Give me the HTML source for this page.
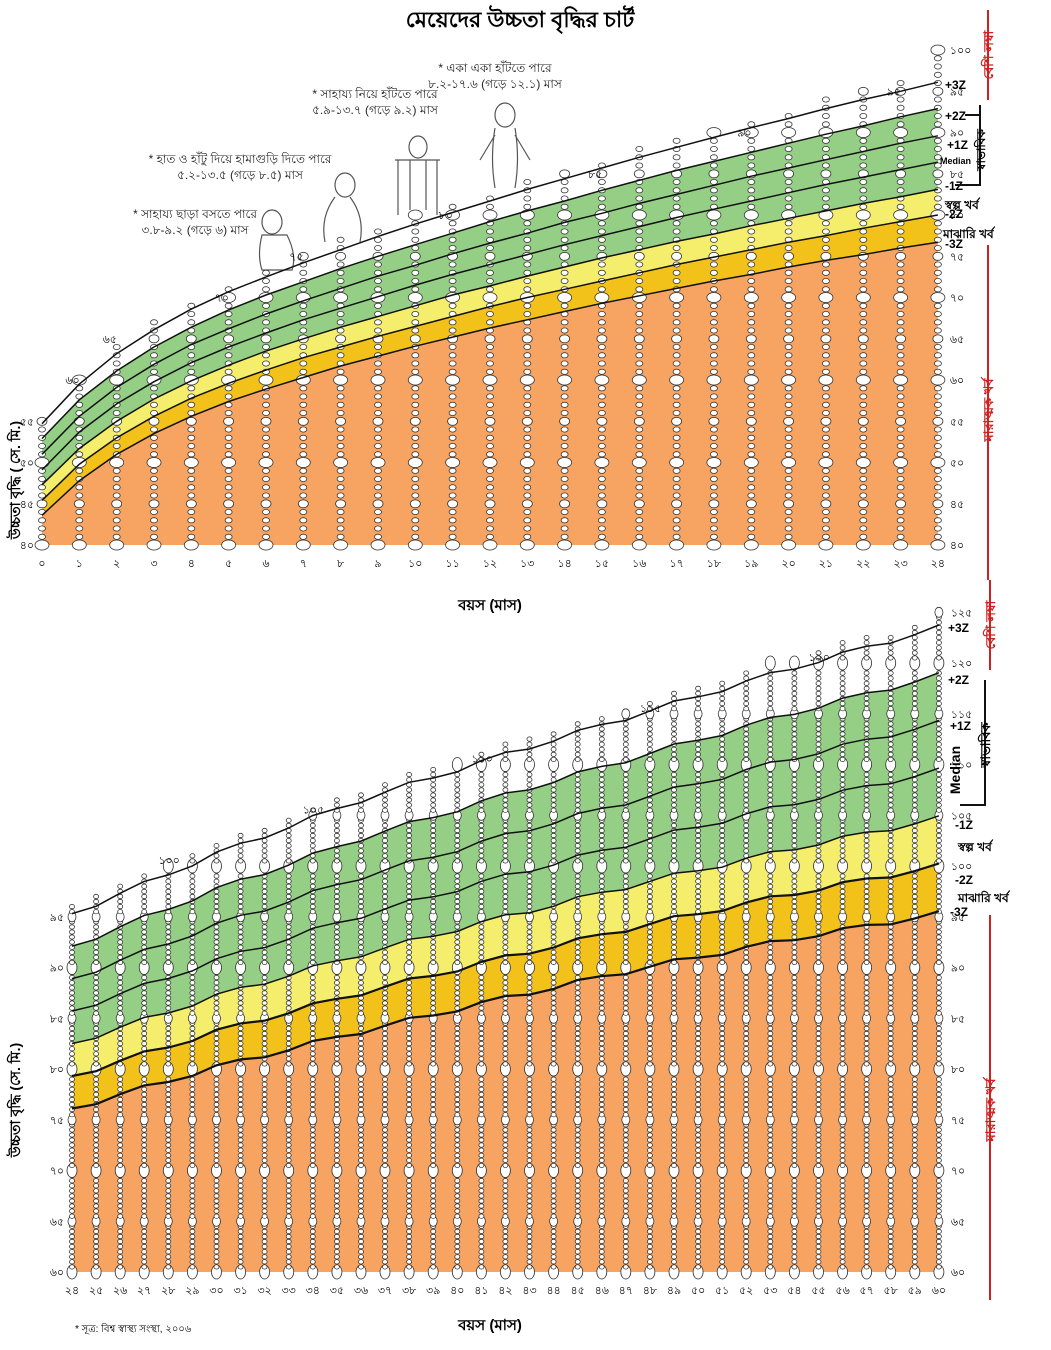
<!DOCTYPE html>
<html><head><meta charset="utf-8"><style>
html,body{margin:0;padding:0;background:#fff;}
svg{display:block;font-family:"Liberation Sans","Noto Sans CJK SC",sans-serif;}
</style></head><body>
<svg id="s" width="1051" height="1350" viewBox="0 0 1051 1350" xmlns="http://www.w3.org/2000/svg">
<text x="520" y="27" text-anchor="middle" font-size="22" font-weight="bold">মেয়েদের উচ্চতা বৃদ্ধির চার্ট</text>
<g font-size="12" text-anchor="middle" fill="#222">
<text x="495" y="72">* একা একা হাঁটতে পারে</text>
<text x="495" y="88">৮.২-১৭.৬ (গড়ে ১২.১) মাস</text>
<text x="375" y="98">* সাহায্য নিয়ে হাঁটতে পারে</text>
<text x="375" y="114">৫.৯-১৩.৭ (গড়ে ৯.২) মাস</text>
<text x="240" y="163">* হাত ও হাঁটু দিয়ে হামাগুড়ি দিতে পারে</text>
<text x="240" y="179">৫.২-১৩.৫ (গড়ে ৮.৫) মাস</text>
<text x="195" y="218">* সাহায্য ছাড়া বসতে পারে</text>
<text x="195" y="234">৩.৮-৯.২ (গড়ে ৬) মাস</text>
</g>
<g fill="none" stroke="#555" stroke-width="1.2">
<ellipse cx="272" cy="222" rx="10" ry="12"/><path d="M262,235 q-5,20 0,35 h30 q5,-15 -5,-35 z"/>
<ellipse cx="345" cy="185" rx="10" ry="12"/><path d="M335,197 q-15,20 -10,45 M350,197 q15,20 10,45"/>
<ellipse cx="418" cy="147" rx="9" ry="11"/><path d="M395,160 h45 M398,160 v55 M437,160 v55 M410,160 v50 M426,160 v50"/>
<ellipse cx="505" cy="115" rx="10" ry="12"/><path d="M495,128 q-5,30 0,60 M515,128 q5,30 0,60 M480,160 l15,-25 M530,160 l-15,-25"/>
</g>
<text x="490" y="610" text-anchor="middle" font-size="15" font-weight="bold">বয়স (মাস)</text>
<text x="490" y="1330" text-anchor="middle" font-size="15" font-weight="bold">বয়স (মাস)</text>
<text x="75" y="1332" font-size="10">* সূত্র: বিশ্ব স্বাস্থ্য সংস্থা, ২০০৬</text>
<text transform="translate(20,480) rotate(-90)" text-anchor="middle" font-size="14" font-weight="bold">উচ্চতা বৃদ্ধি ( সে. মি.)</text>
<text transform="translate(20,1100) rotate(-90)" text-anchor="middle" font-size="14" font-weight="bold">উচ্চতা বৃদ্ধি (সে. মি.)</text>
<g id="g"></g>
</svg>
<script>
var B="০১২৩৪৫৬৭৮৯";function bn(n){return String(n).split('').map(c=>/\d/.test(c)?B[+c]:c).join('');}
var g=document.getElementById('g'),h='';
var T={m3:[43.6,47.8,51.0,53.5,55.6,57.4,58.9,60.3,61.7,62.9,64.1,65.2,66.3,67.3,68.3,69.3,70.2,71.1,72.0,72.8,73.7,74.5,75.2,76.0,76.7],
m2:[45.4,49.8,53.0,55.6,57.8,59.6,61.2,62.7,64.0,65.3,66.5,67.7,68.9,70.0,71.0,72.0,73.0,74.0,74.9,75.8,76.7,77.5,78.4,79.2,80.0],
m1:[47.3,51.7,55.0,57.7,59.9,61.8,63.5,65.0,66.4,67.7,69.0,70.3,71.4,72.6,73.7,74.8,75.8,76.8,77.7,78.7,79.6,80.5,81.4,82.2,83.1],
md:[49.1,53.7,57.1,59.8,62.1,64.0,65.7,67.3,68.7,70.1,71.5,72.8,74.0,75.2,76.4,77.5,78.6,79.7,80.7,81.7,82.7,83.7,84.6,85.5,86.4],
p1:[51.0,55.6,59.1,61.9,64.3,66.2,68.0,69.6,71.1,72.6,73.9,75.3,76.6,77.8,79.1,80.2,81.4,82.5,83.6,84.7,85.7,86.7,87.7,88.7,89.6],
p2:[52.9,57.6,61.1,64.0,66.4,68.5,70.3,71.9,73.5,75.0,76.4,77.8,79.2,80.5,81.7,83.0,84.2,85.4,86.5,87.6,88.7,89.8,90.8,91.9,92.9],
p3:[54.7,59.5,63.2,66.1,68.6,70.7,72.5,74.2,75.8,77.4,78.9,80.3,81.7,83.1,84.4,85.7,87.0,88.2,89.4,90.6,91.7,92.9,94.0,95.0,96.1]};
var C={o:'#f7a462',g:'#f3c21a',y:'#f5ee6c',gr:'#95cf86'};
function chart(o){
 var X=m=>o.x0+(m-o.m0)*o.dx, Y=v=>o.yb-(v-o.vb)*o.dy, n=o.n;
 function pts(a){return a.map((v,i)=>X(o.m0+i).toFixed(1)+','+Y(v).toFixed(1));}
 function band(top,bot,col){var p=pts(top),q=pts(bot).reverse();h+='<polygon points="'+p.concat(q).join(' ')+'" fill="'+col+'"/>';}
 var base=o.L.m3.map(()=>o.vb);
 band(o.L.m3,base,C.o);band(o.L.m2,o.L.m3,C.g);band(o.L.m1,o.L.m2,C.y);band(o.L.p2,o.L.m1,C.gr);
 for(var i=0;i<n;i++){var m=o.m0+i,x=X(m),top=o.L.p3[i]+o.ext;if(i==n-1)top=o.vt;
  for(var v=o.vb;v<=top+1e-6;v+=o.step){var big=Math.abs(v%10)<1e-6,mid=!big&&Math.abs(v%5)<1e-6;
   var rx=big?o.rb[0]:mid?o.rm[0]:o.rs[0],ry=big?o.rb[1]:mid?o.rm[1]:o.rs[1];
   h+='<ellipse cx="'+x.toFixed(1)+'" cy="'+Y(v).toFixed(1)+'" rx="'+rx+'" ry="'+ry+'" fill="#fff" stroke="#333" stroke-width="0.8"/>';}
  h+='<text x="'+x.toFixed(1)+'" y="'+(o.yb+o.lab)+'" font-size="11" text-anchor="middle">'+bn(m)+'</text>';}
 ['p3','p2','p1','md','m1','m2','m3'].forEach(kk=>{h+='<polyline points="'+pts(o.L[kk]).join(' ')+'" fill="none" stroke="#111" stroke-width="'+(o.bold&&(kk=='m2'||kk=='m3')?2.2:1.5)+'"/>';});
 for(var v=o.vb;v<=o.vt;v+=5){h+='<text x="'+(X(o.m0+n-1)+12)+'" y="'+(Y(v)+4)+'" font-size="11">'+bn(v)+'</text>';}
 for(var v=o.vb;v<=o.vl;v+=5){h+='<text x="'+(o.x0-8)+'" y="'+(Y(v)+4)+'" font-size="11" text-anchor="end">'+bn(v)+'</text>';}
}
chart({x0:42,m0:0,dx:37.33,yb:545,vb:40,vt:100,vl:55,dy:8.25,n:25,L:T,ext:1.2,step:1,rb:[7,5],rm:[5,4],rs:[3.5,2.6],lab:22});
var MS=[85.7,90.7,95.1,99.0,102.7,106.2,109.4],SD=[3.2,3.5,3.8,4.0,4.2,4.45,4.7],Z={m3:-3,m2:-2,m1:-1,md:0,p1:1,p2:2,p3:3},L2={};
for(var kk in Z){L2[kk]=[];for(var m=24;m<=60;m++){var t=(m-24)/6,j=Math.min(5,Math.floor(t)),f=t-j;var md=MS[j]+(MS[j+1]-MS[j])*f,sd=SD[j]+(SD[j+1]-SD[j])*f;L2[kk].push(md+Z[kk]*sd+Math.sin(m*1.7)*0.25);}}
chart({x0:72,m0:24,dx:24.08,yb:1272,vb:60,vt:125,vl:95,dy:10.15,n:37,L:L2,ext:1,step:0.5,rb:[5,7],rm:[4,5],rs:[2.5,2.2],lab:22,bold:1});
var lab=[[945,89,'+3Z'],[945,120,'+2Z'],[947,149,'+1Z'],[940,164,'Median'],[945,190,'-1Z'],[945,209,'স্বল্প খর্ব'],[945,218,'-2Z'],[943,238,'মাঝারি খর্ব'],[945,248,'-3Z'],
[948,632,'+3Z'],[948,684,'+2Z'],[950,730,'+1Z'],[955,829,'-1Z'],[958,851,'স্বল্প খর্ব'],[955,884,'-2Z'],[958,902,'মাঝারি খর্ব'],[950,916,'-3Z']];
lab.forEach(a=>{h+='<text x="'+a[0]+'" y="'+a[1]+'" font-size="'+(a[2]=='Median'?9:12)+'" font-weight="bold">'+a[2]+'</text>';});
h+='<text transform="translate(960,770) rotate(-90)" text-anchor="middle" font-size="14" font-weight="bold">Median</text>';
var stair=[[1,60],[2,65],[5,70],[7,75],[11,80],[15,85],[19,90],[23,95]];
stair.forEach(a=>{h+='<text x="'+(42+a[0]*37.33-14)+'" y="'+(545-(a[1]-40)*8.25+4)+'" font-size="11">'+bn(a[1])+'</text>';});
[[28,100],[34,105],[41,110],[48,115],[55,120]].forEach(a=>{h+='<text x="'+(72+(a[0]-24)*24.08-10)+'" y="'+(1272-(a[1]-60)*10.15-2)+'" font-size="11">'+bn(a[1])+'</text>';});
function arr(x,y1,y2,col,t,ty){h+='<line x1="'+x+'" y1="'+y1+'" x2="'+x+'" y2="'+y2+'" stroke="'+col+'" stroke-width="2"/>';
 if(t)h+='<text transform="translate('+(x+5)+','+ty+') rotate(-90)" text-anchor="middle" font-size="13" fill="'+col+'" font-weight="bold">'+t+'</text>';}
arr(988,10,100,'#d02020','বেশি লম্বা',55);arr(988,245,580,'#d02020','মারাত্মক খর্ব',410);
arr(990,580,670,'#d02020','বেশি লম্বা',625);arr(990,915,1300,'#d02020','মারাত্মক খর্ব',1110);
h+='<path d="M980,105 v80 h-25 M980,115 h-15" fill="none" stroke="#111" stroke-width="2"/><text transform="translate(985,150) rotate(-90)" text-anchor="middle" font-size="12" font-weight="bold">স্বাভাবিক</text>';
h+='<path d="M985,680 v125 h-25" fill="none" stroke="#111" stroke-width="2"/><text transform="translate(990,745) rotate(-90)" text-anchor="middle" font-size="13" font-weight="bold">স্বাভাবিক</text>';
g.innerHTML=h;
</script>
</body></html>
